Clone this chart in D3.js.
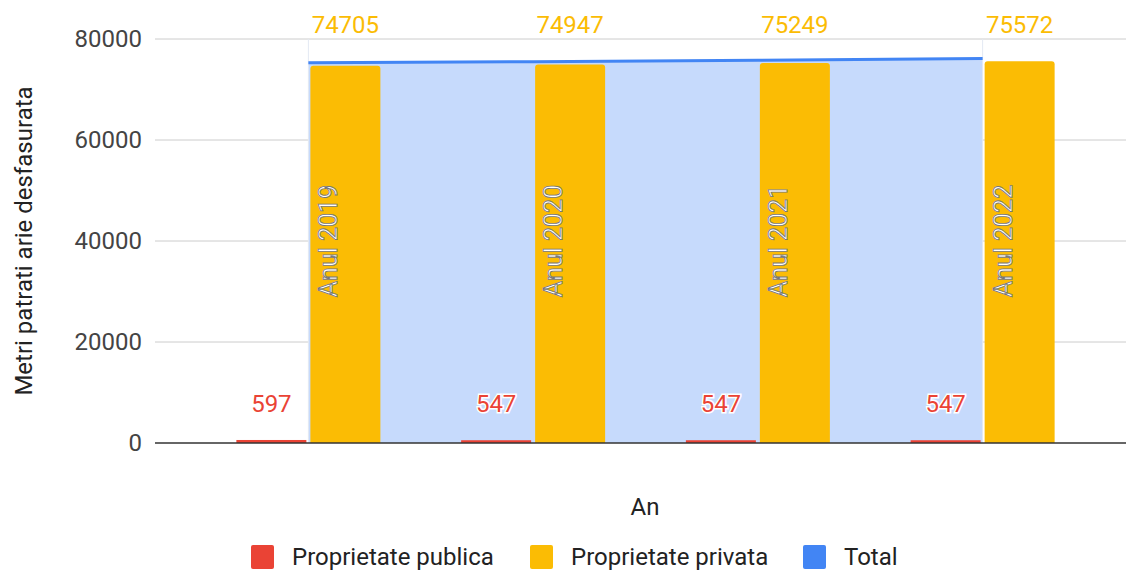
<!DOCTYPE html>
<html>
<head>
<meta charset="utf-8">
<script src="https://cdn.jsdelivr.net/npm/d3@7"></script>
<style>
  html, body { margin: 0; padding: 0; background: #fff; }
  svg { display: block; font-family: Roboto, "Noto Sans", sans-serif; }
</style>
</head>
<body>
<div id="chart"></div>
<script>
// --- DATA ---
const categories = ['Anul 2019', 'Anul 2020', 'Anul 2021', 'Anul 2022'];
const publica = [597, 547, 547, 547];
const privata = [74705, 74947, 75249, 75572];
const total = [75302, 75494, 75796, 76119];
const yTicks = [0, 20000, 40000, 60000, 80000];
const seriesNames = ['Proprietate publica', 'Proprietate privata', 'Total'];

// --- CONFIG ---
const W = 1126, H = 572;
const colors = { red: '#ea4335', orange: '#fbbc04', blue: '#4285f4', area: '#c6dafc' };
const plot = { left: 155, right: 1126, top: 39, bottom: 443 };
const fs = 24;

const svg = d3.select('#chart').append('svg')
    .attr('width', W).attr('height', H);

const x = d3.scaleBand().domain(categories).range([196, 1095]);
const y = d3.scaleLinear().domain([0, 80000]).range([plot.bottom, plot.top]);
const barW = 70, gap = 4;
const cx = d => x(d) + x.bandwidth() / 2;

// gridlines
svg.append('g').selectAll('line').data(yTicks.filter(t => t > 0)).join('line')
    .attr('x1', plot.left).attr('x2', plot.right)
    .attr('y1', d => y(d)).attr('y2', d => y(d))
    .attr('stroke', '#ccc').attr('stroke-width', 1);

// tick labels
svg.append('g').selectAll('text').data(yTicks).join('text')
    .attr('x', 142).attr('y', d => y(d)).attr('dy', '0.35em')
    .attr('text-anchor', 'end').attr('font-size', fs).attr('fill', '#444')
    .text(d => d);

// total area + line
const pts = categories.map((c, i) => ({ c, v: total[i] }));
svg.append('path').datum(pts)
    .attr('fill', colors.area)
    .attr('d', d3.area().x(d => cx(d.c)).y0(y(0)).y1(d => y(d.v)));

svg.append('g').selectAll('line').data([categories[0], categories[3]]).join('line')
    .attr('x1', d => cx(d)).attr('x2', d => cx(d))
    .attr('y1', plot.top).attr('y2', plot.bottom)
    .attr('stroke', '#e3e9f3').attr('stroke-width', 1);

svg.append('path').datum(pts)
    .attr('fill', 'none').attr('stroke', colors.blue).attr('stroke-width', 3)
    .attr('d', d3.line().x(d => cx(d.c)).y(d => y(d.v)));

// bars
svg.append('g').selectAll('rect').data(publica).join('rect')
    .attr('x', (d, i) => cx(categories[i]) - gap / 2 - barW)
    .attr('y', d => y(d)).attr('width', barW)
    .attr('height', d => y(0) - y(d))
    .attr('fill', colors.red);

svg.append('g').selectAll('path').data(privata).join('path')
    .attr('fill', colors.orange)
    .attr('d', (d, i) => {
        const x0 = cx(categories[i]) + gap / 2, x1 = x0 + barW;
        const y0 = y(d), y1 = y(0), r = 3;
        return `M${x0},${y1}V${y0 + r}Q${x0},${y0} ${x0 + r},${y0}H${x1 - r}Q${x1},${y0} ${x1},${y0 + r}V${y1}Z`;
    });

// baseline
svg.append('line')
    .attr('x1', plot.left).attr('x2', plot.right)
    .attr('y1', y(0)).attr('y2', y(0))
    .attr('stroke', '#333').attr('stroke-width', 1.5);

// value labels
svg.append('g').selectAll('text').data(privata).join('text')
    .attr('x', (d, i) => cx(categories[i]) + gap / 2 + barW / 2)
    .attr('y', 33).attr('text-anchor', 'middle')
    .attr('font-size', fs).attr('fill', colors.orange)
    .text(d => d);

svg.append('g').selectAll('text').data(publica).join('text')
    .attr('x', (d, i) => cx(categories[i]) - gap / 2 - barW / 2)
    .attr('y', d => y(d) - 28).attr('text-anchor', 'middle')
    .attr('font-size', fs).attr('fill', colors.red)
    .attr('stroke', '#fff').attr('stroke-width', 3).attr('paint-order', 'stroke')
    .text(d => d);

// category labels (rotated, inside bars)
svg.append('g').selectAll('text').data(categories).join('text')
    .attr('transform', d => `translate(${cx(d) + 29},${y(40000)}) rotate(-90)`)
    .attr('text-anchor', 'middle')
    .attr('font-size', 25).attr('fill', '#fff')
    .attr('stroke', '#777').attr('stroke-width', 0.9)
    .text(d => d);

// axis titles
svg.append('text')
    .attr('transform', `translate(32,${y(40000)}) rotate(-90)`)
    .attr('text-anchor', 'middle').attr('font-size', fs).attr('fill', '#222')
    .text('Metri patrati arie desfasurata');

svg.append('text')
    .attr('x', 645).attr('y', 515).attr('text-anchor', 'middle')
    .attr('font-size', fs).attr('fill', '#222')
    .text('An');

// legend
const legendX = [251, 530, 803];
const lg = svg.append('g').selectAll('g').data(seriesNames).join('g')
    .attr('transform', (d, i) => `translate(${legendX[i]},557)`);
lg.append('rect').attr('x', 0).attr('y', -12).attr('width', 23).attr('height', 24).attr('rx', 2)
    .attr('fill', (d, i) => [colors.red, colors.orange, colors.blue][i]);
lg.append('text').attr('x', 41).attr('dy', '0.35em')
    .attr('font-size', fs).attr('fill', '#222')
    .text(d => d);
</script>
</body>
</html>
